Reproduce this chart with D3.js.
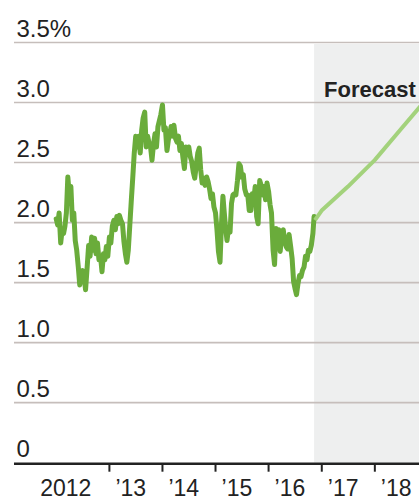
<!DOCTYPE html>
<html>
<head>
<meta charset="utf-8">
<script src="https://cdn.jsdelivr.net/npm/d3@7"></script>
<style>
  html, body { margin: 0; padding: 0; background: #ffffff; }
  svg { display: block; }
  text { font-family: "Liberation Sans", Arial, sans-serif; fill: #222; }
</style>
</head>
<body>
<svg id="chart" width="419" height="501"></svg>
<script>
// ---- Data ----
// Observed yield, sampled on days 1, 11 and 21 of each month from Jan 2012 to Oct 2016,
// then Nov 1 and Nov 9, 2016.
const firstMonth = "2012-01";
const monthCount = 58;
const sampleDays = [1, 11, 21];
const tailDates = ["2016-11-01", "2016-11-09"];
const yieldValues = [
  2.03, 1.98, 2.08,  1.83, 1.94, 1.91,  1.97, 2.08, 2.38,  2.22, 2.30, 2.02,
  2.08, 1.85, 1.77,  1.63, 1.48, 1.58,  1.60, 1.55, 1.44,  1.63, 1.81, 1.72,
  1.88, 1.77, 1.87,  1.74, 1.83, 1.69,  1.72, 1.59, 1.74,  1.69, 1.80, 1.72,
  1.88, 1.83, 1.97,  2.02, 1.94, 2.05,  1.99, 2.06, 2.02,  1.99, 1.84, 1.74,
  1.67, 1.77, 1.97,  2.19, 2.38, 2.58,  2.72, 2.63, 2.72,  2.58, 2.77, 2.87,
  2.92, 2.63, 2.72,  2.66, 2.63, 2.52,  2.66, 2.74, 2.63,  2.80, 2.85, 2.90,
  2.98, 2.77, 2.79,  2.60, 2.69, 2.74,  2.80, 2.72, 2.81,  2.70, 2.67, 2.72,
  2.60, 2.66, 2.55,  2.45, 2.63, 2.58,  2.63, 2.55, 2.51,  2.42, 2.37, 2.47,
  2.58, 2.62, 2.44,  2.33, 2.37, 2.31,  2.38, 2.34, 2.28,  2.20, 2.24, 2.13,
  2.08, 1.94, 1.76,  1.67, 1.99, 2.22,  2.10, 1.96, 1.85,  1.96, 1.92, 2.16,
  2.23, 2.24, 2.23,  2.35, 2.49, 2.47,  2.38, 2.40, 2.28,  2.23, 2.23, 2.10,
  2.10, 2.24, 2.19,  2.30, 2.05, 1.99,  2.35, 2.31, 2.23,  2.30, 2.19, 2.33,
  2.26, 2.15, 2.08,  1.77, 1.65, 1.95,  1.87, 1.94, 1.76,  1.91, 1.94, 1.84,
  1.80, 1.78, 1.90,  1.80, 1.70, 1.51,  1.45, 1.40, 1.49,  1.56, 1.55, 1.60,
  1.63, 1.72, 1.69,  1.77, 1.76, 1.81,
  1.91, 2.05
];

// Forecast
const forecastDates = ["2016-11-15", "2016-12-31", "2017-06-30", "2017-12-31", "2018-06-30", "2018-12-31"];
const forecastValues = [2.02, 2.10, 2.30, 2.52, 2.78, 3.04];

// Axis labels
const yTicks = [0, 0.5, 1.0, 1.5, 2.0, 2.5, 3.0, 3.5];
const yearTicks = [2013, 2014, 2015, 2016, 2017, 2018];
const yearLabels = ["2012", "\u201913", "\u201914", "\u201915", "\u201916", "\u201917", "\u201918"];
const forecastLabel = "Forecast";

// ---- Build dates ----
const parse = d3.utcParse("%Y-%m-%d");
const start = d3.utcParse("%Y-%m")(firstMonth);
const obsDates = [];
d3.utcMonth.range(start, d3.utcMonth.offset(start, monthCount)).forEach(m => {
  sampleDays.forEach(d => obsDates.push(new Date(Date.UTC(m.getUTCFullYear(), m.getUTCMonth(), d))));
});
tailDates.forEach(s => obsDates.push(parse(s)));
const observed = obsDates.map((d, i) => ({ date: d, value: yieldValues[i] }));
const forecast = forecastDates.map((s, i) => ({ date: parse(s), value: forecastValues[i] }));

// ---- Scales ----
const W = 419, H = 501;
const x = d3.scaleUtc()
  .domain([new Date(Date.UTC(2012, 0, 1)), new Date(Date.UTC(2019, 0, 1))])
  .range([56.2, 56.2 + 7 * 53.1]);
const y = d3.scaleLinear().domain([0, 3.5]).range([462.7, 42.5]);

const svg = d3.select("#chart");

// Forecast shading
const shadeStart = x(parse(tailDates[tailDates.length - 1]));
svg.append("rect")
  .attr("x", shadeStart)
  .attr("y", y(3.5) + 1.5)
  .attr("width", W - shadeStart)
  .attr("height", y(0) - y(3.5) - 1.5)
  .attr("fill", "#eeefef");

// Gridlines
svg.append("g").selectAll("line")
  .data(yTicks.filter(v => v > 0))
  .join("line")
  .attr("x1", 14).attr("x2", W)
  .attr("y1", d => y(d)).attr("y2", d => y(d))
  .attr("stroke", "#c6bebb")
  .attr("stroke-width", 1.6);

// Y labels
svg.append("g").selectAll("text")
  .data(yTicks)
  .join("text")
  .attr("x", 16.5)
  .attr("y", d => y(d) - 6)
  .attr("font-size", 24)
  .text(d => d === 0 ? "0" : (d === 3.5 ? "3.5%" : d.toFixed(1)));

// Lines
const line = d3.line().x(d => x(d.date)).y(d => y(d.value));
svg.append("path")
  .datum(observed)
  .attr("d", line)
  .attr("fill", "none")
  .attr("stroke", "#6aac3b")
  .attr("stroke-width", 5)
  .attr("stroke-linejoin", "round")
  .attr("stroke-linecap", "round");

svg.append("path")
  .datum(forecast)
  .attr("d", line)
  .attr("fill", "none")
  .attr("stroke", "#a3d27c")
  .attr("stroke-width", 4)
  .attr("stroke-linejoin", "round");

// X axis
const xAxisG = svg.append("g");
xAxisG.append("line")
  .attr("x1", 14).attr("x2", W)
  .attr("y1", y(0) + 1).attr("y2", y(0) + 1)
  .attr("stroke", "#222").attr("stroke-width", 2.5);
xAxisG.selectAll("line.tick")
  .data(yearTicks)
  .join("line")
  .attr("class", "tick")
  .attr("x1", d => x(new Date(Date.UTC(d, 0, 1))))
  .attr("x2", d => x(new Date(Date.UTC(d, 0, 1))))
  .attr("y1", y(0) + 1).attr("y2", y(0) + 9)
  .attr("stroke", "#222").attr("stroke-width", 2);

xAxisG.selectAll("text")
  .data(yearLabels)
  .join("text")
  .attr("font-size", 23)
  .attr("y", 496)
  .attr("text-anchor", (d, i) => i === 0 ? "end" : "start")
  .attr("x", (d, i) => i === 0
    ? x(new Date(Date.UTC(yearTicks[0], 0, 1))) - 18
    : x(new Date(Date.UTC(yearTicks[i - 1], 0, 1))) + 6)
  .text(d => d);

// Forecast label
svg.append("text")
  .attr("x", 324)
  .attr("y", 96.5)
  .attr("font-size", 22)
  .attr("font-weight", "bold")
  .attr("fill", "#111")
  .text(forecastLabel);
</script>
</body>
</html>
